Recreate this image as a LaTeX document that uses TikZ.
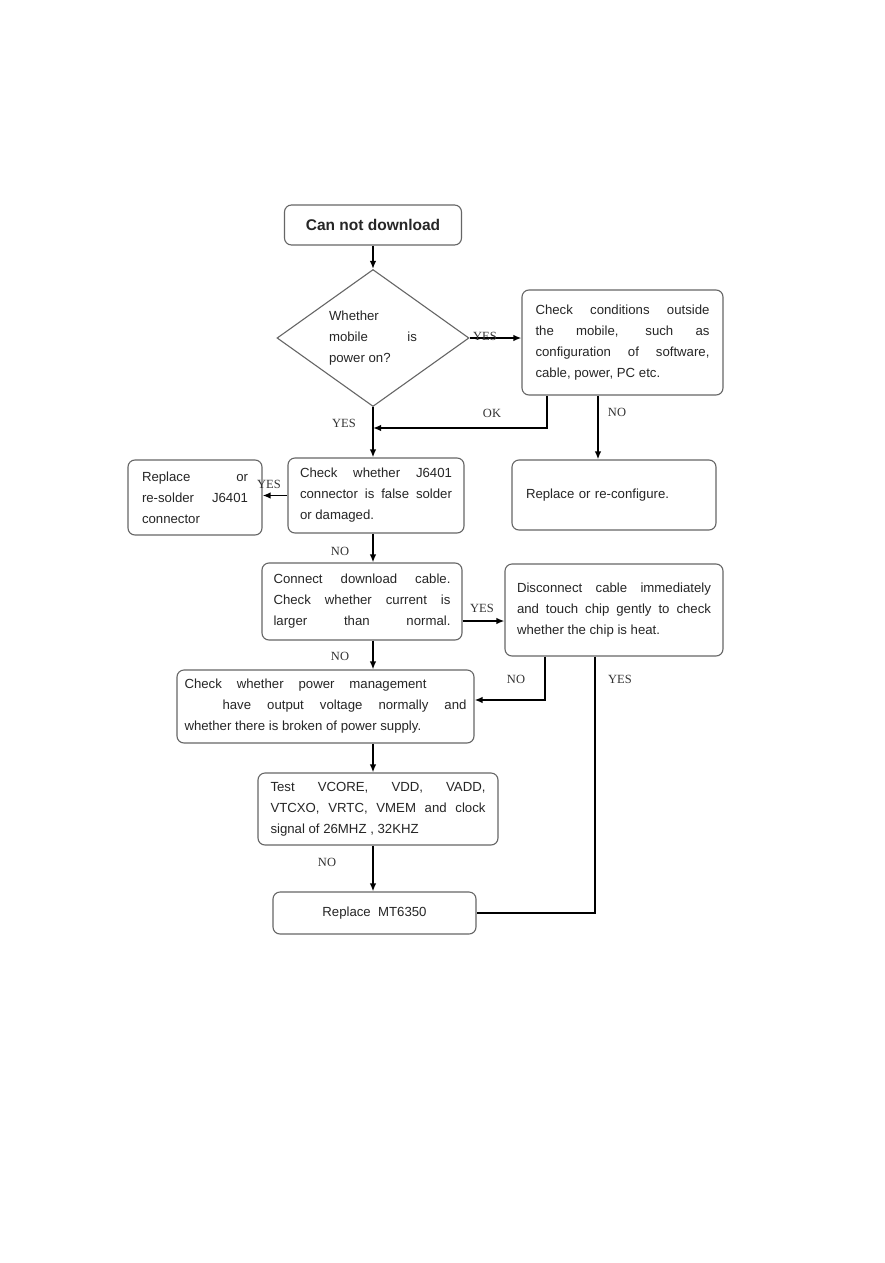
\documentclass[tikz,border=0pt]{standalone}
\usepackage{fontspec}
\setmainfont{Liberation Sans}
\newfontfamily\labfont{Liberation Serif}
\usetikzlibrary{shapes.geometric,arrows.meta}

\begin{document}
\begin{tikzpicture}[x=1pt, y=-1pt,
    box/.style={draw=black!60, line width=1.1pt, rounded corners=7pt, align=justify,
        inner xsep=6pt, inner ysep=4pt, text=black!85, font=\fontsize{13.2}{21}\selectfont},
    dims/.style 2 args={minimum width=#1, minimum height=#2},
    dec/.style={draw=black!60, line width=1.1pt, diamond, aspect=1.4, inner sep=0pt,
        minimum width=192pt, minimum height=137pt, align=justify, text width=88pt,
        text=black!85, font=\fontsize{13.2}{21}\selectfont},
    arr/.style={-{Latex[length=8pt,width=6.5pt]}, line width=1.7pt},
    lab/.style={text=black!80, font=\labfont\fontsize{12.5}{13}\selectfont}]

    \useasboundingbox (0,0) rectangle (884,1263);
    \fill[white] (0,0) rectangle (884,1263);
    \coordinate (trunk) at (373,0);

    % Nodi
    \node[box, dims={177pt}{40pt}, align=center, font=\fontsize{15.5}{18}\selectfont\bfseries]
        (start) at (373,225) {Can not download};
    \node[dec] (dia) at (373,338) {Whether\\ mobile is\linebreak power on?};
    \node[box, dims={201pt}{105pt}, text width=174pt] (outside) at (622.5,342.5)
        {Check conditions outside\linebreak the mobile, such as\linebreak configuration of software,\linebreak cable, power, PC etc.};
    \node[box, dims={204pt}{70pt}, text width=176pt, align=left] (reconf) at (614,495)
        {Replace or re-configure.};
    \node[box, dims={176pt}{75pt}, text width=152pt] (jcheck) at (376,495.5)
        {Check whether J6401\linebreak connector is false solder\linebreak or damaged.};
    \node[box, dims={134pt}{75pt}, text width=106pt] (resolder) at (195,497.5)
        {Replace or\linebreak re-solder J6401\linebreak connector};
    \node[box, dims={200pt}{77pt}, text width=177pt] (cable) at (362,601.5)
        {Connect download cable.\linebreak Check whether current is\linebreak \makebox[177pt][s]{larger than normal.}};
    \node[box, dims={218pt}{92pt}, text width=194pt] (disc) at (614,610)
        {Disconnect cable immediately\linebreak and touch chip gently to check\linebreak whether the chip is heat.};
    \node[box, dims={297pt}{73pt}, text width=282pt] (power) at (325.5,706.5)
        {\makebox[242pt][s]{Check whether power management}\\
         \hspace*{38pt}have output voltage normally and\linebreak
         whether there is broken of power supply.};
    \node[box, dims={240pt}{72pt}, text width=215pt] (test) at (378,809)
        {Test VCORE, VDD, VADD,\linebreak VTCXO, VRTC, VMEM and clock\linebreak signal of 26MHZ , 32KHZ};
    \node[box, dims={203pt}{42pt}, align=center] (mt) at (374.5,913) {Replace\ \ MT6350};

    % Frecce
    \draw[arr] (start.south) -- (dia.north);
    \draw[arr] (dia.east) -- (dia.east -| outside.west);
    \draw[arr] (dia.south) -- (dia.south |- jcheck.north);
    \coordinate (okend) at (373,428);
    \draw[arr] ([xshift=-75.5pt]outside.south) |- (okend);
    \draw[arr] ([xshift=-24.5pt]outside.south) -- ([xshift=-24.5pt]outside.south |- reconf.north);
    \draw[arr] (jcheck.west) -- (jcheck.west -| resolder.east);
    \draw[arr] (jcheck.south -| trunk) -- (trunk |- cable.north);
    \draw[arr] ([yshift=-19.5pt]cable.east) -- ([yshift=-19.5pt]cable.east -| disc.west);
    \draw[arr] (cable.south -| trunk) -- (trunk |- power.north);
    \draw[arr] ([xshift=-69pt]disc.south) |- ([yshift=6.5pt]power.east);
    \draw[line width=1.7pt] ([xshift=-19pt]disc.south) |- (mt.east);
    \draw[arr] (power.south -| trunk) -- (trunk |- test.north);
    \draw[arr] (test.south -| trunk) -- (trunk |- mt.north);

    % Etichette
    \node[lab] (l1) at (485,336) {YES};
    \node[lab] (l2) at (344,423) {YES};
    \node[lab] (l3) at (492,413) {OK};
    \node[lab] (l4) at (617,412) {NO};
    \node[lab] (l5) at (269,484) {YES};
    \node[lab] (l6) at (340,551) {NO};
    \node[lab] (l7) at (482,608) {YES};
    \node[lab] (l8) at (340,656) {NO};
    \node[lab] (l9) at (516,679) {NO};
    \node[lab] (l10) at (620,679) {YES};
    \node[lab] (l11) at (327,862) {NO};

\end{tikzpicture}
\end{document}
